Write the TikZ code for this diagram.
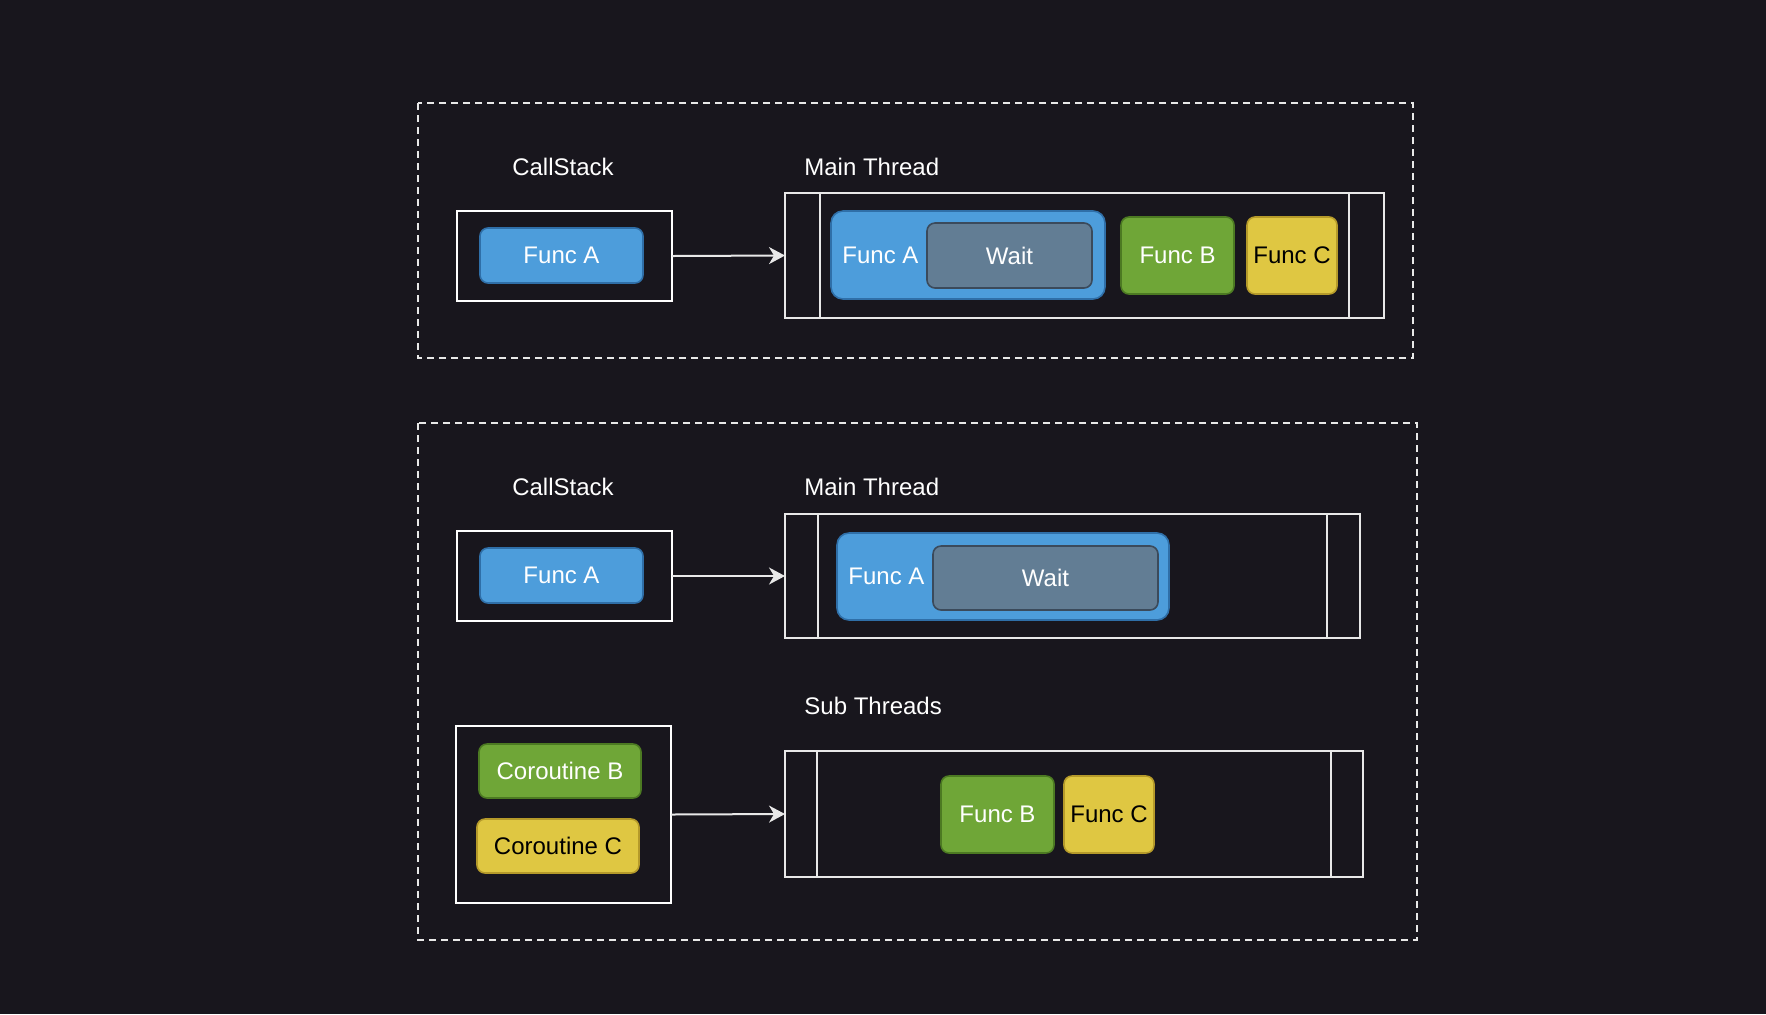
\documentclass[tikz,border=0pt]{standalone}
\usepackage{fontspec}
\setmainfont{Liberation Sans}
\usetikzlibrary{arrows.meta,positioning}
\usepackage{xcolor}

\definecolor{bgcol}{HTML}{18161D}
\definecolor{linecol}{HTML}{E8E8E8}
\definecolor{blueF}{HTML}{4D9DDB}
\definecolor{blueD}{HTML}{2F6FA8}
\definecolor{waitF}{HTML}{627D94}
\definecolor{waitD}{HTML}{3B4A5B}
\definecolor{greenF}{HTML}{6FA637}
\definecolor{greenD}{HTML}{4C7A22}
\definecolor{yellowF}{HTML}{DFC742}
\definecolor{yellowD}{HTML}{B59A2A}

\begin{document}
\begin{tikzpicture}[x=0.5pt, y=-0.5pt, font=\fontsize{12}{14}\selectfont]
                \tikzstyle{group} = [draw=linecol, line width=1pt, dash pattern=on 3.5pt off 2.5pt];
                \tikzstyle{title} = [text=white, inner sep=0pt];
                \tikzstyle{stackbox} = [draw=white, line width=1pt, inner sep=0pt, outer sep=0pt];
                \tikzstyle{threadbox} = [draw=linecol, line width=0.8pt, inner sep=0pt, outer sep=0pt];
                \tikzstyle{func} = [rounded corners=4pt, line width=0.8pt, inner sep=0pt, outer sep=0pt];
                \tikzstyle{funcA} = [func, fill=blueF, draw=blueD, text=white];
                \tikzstyle{bigA} = [funcA, rounded corners=6pt];
                \tikzstyle{waitbox} = [func, fill=waitF, draw=waitD, text=white];
                \tikzstyle{funcB} = [func, fill=greenF, draw=greenD, text=white];
                \tikzstyle{funcC} = [func, fill=yellowF, draw=yellowD, text=black];
                \tikzstyle{flow} = [draw=linecol, line width=1pt, -{Stealth[length=8pt, width=8.5pt, inset=2.5pt]}];

                \fill[bgcol] (0,0) rectangle (1766,1014);
                \useasboundingbox (0,0) rectangle (1766,1014);

                % upper group
                \draw[group] (418,103) rectangle (1413,358);
                \node[title](CS1) at (563,167) {CallStack};
                \node[title, anchor=west](MT1) at (804,167) {Main Thread};

                \node[stackbox, minimum width=107.5pt, minimum height=45pt](S1) at (564.5,256) {};
                \node[funcA, minimum width=81.5pt, minimum height=27.5pt](SA1) at (561.5,255.5) {Func A};

                \node[threadbox, minimum width=299.5pt, minimum height=62.5pt](T1) at (1084.5,255.5) {};
                \draw[threadbox] ([xshift=17.5pt]T1.north west) -- ([xshift=17.5pt]T1.south west);
                \draw[threadbox] ([xshift=-17.5pt]T1.north east) -- ([xshift=-17.5pt]T1.south east);

                \node[bigA, minimum width=137pt, minimum height=44pt](A1) at (968,255) {};
                \node[title, right=5.5pt of A1.west](A1t) {Func A};
                \node[waitbox, minimum width=82.5pt, minimum height=32.5pt](W1) at (1009.5,255.5) {Wait};
                \node[funcB, minimum width=56.5pt, minimum height=38.5pt](B1) at (1177.5,255.5) {Func B};
                \node[funcC, minimum width=45pt, minimum height=38.5pt](C1) at (1292,255.5) {Func C};

                \draw[flow] (S1.east) -- (T1.west);

                % lower group
                \draw[group] (418,423) rectangle (1417,940);
                \node[title](CS2) at (563,487) {CallStack};
                \node[title, anchor=west](MT2) at (804,487) {Main Thread};
                \node[title, anchor=west](ST) at (804,706) {Sub Threads};

                \node[stackbox, minimum width=107.5pt, minimum height=45pt](S2) at (564.5,576) {};
                \node[funcA, minimum width=81.5pt, minimum height=27.5pt](SA2) at (561.5,575.5) {Func A};

                \node[threadbox, minimum width=287.5pt, minimum height=62pt](T2) at (1072.5,576) {};
                \draw[threadbox] ([xshift=16.5pt]T2.north west) -- ([xshift=16.5pt]T2.south west);
                \draw[threadbox] ([xshift=-16.5pt]T2.north east) -- ([xshift=-16.5pt]T2.south east);

                \node[bigA, minimum width=166pt, minimum height=43.5pt](A2) at (1003,576.5) {};
                \node[title, right=5.5pt of A2.west](A2t) {Func A};
                \node[waitbox, minimum width=112.5pt, minimum height=32pt](W2) at (1045.5,578) {Wait};

                \draw[flow] (S2.east) -- (T2.west);

                \node[stackbox, minimum width=107.5pt, minimum height=88.5pt](S3) at (563.5,814.5) {};
                \node[funcB, minimum width=81pt, minimum height=27pt](CB) at (560,771) {Coroutine B};
                \node[funcC, minimum width=81pt, minimum height=27pt](CC) at (558,846) {Coroutine C};

                \node[threadbox, minimum width=289pt, minimum height=63pt](T3) at (1074,814) {};
                \draw[threadbox] ([xshift=16pt]T3.north west) -- ([xshift=16pt]T3.south west);
                \draw[threadbox] ([xshift=-16pt]T3.north east) -- ([xshift=-16pt]T3.south east);

                \node[funcB, minimum width=56.5pt, minimum height=38.5pt](B2) at (997.5,814.5) {Func B};
                \node[funcC, minimum width=45pt, minimum height=38.5pt](C2) at (1109,814.5) {Func C};

                \draw[flow] (S3.east) -- (T3.west);
            \end{tikzpicture}
\end{document}
